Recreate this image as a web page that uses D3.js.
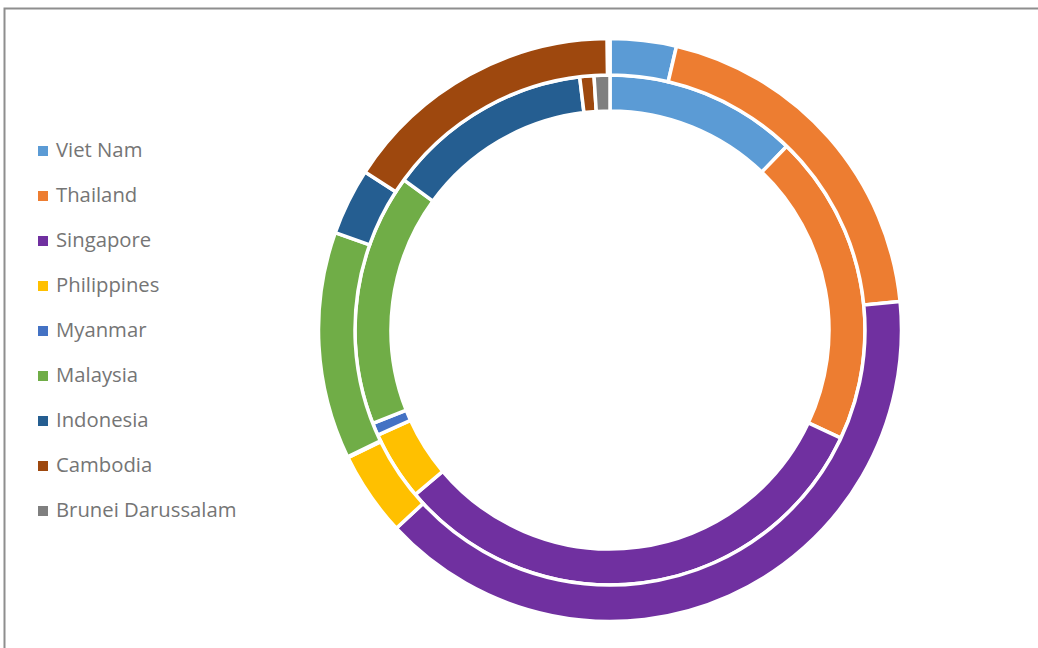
<!DOCTYPE html>
<html>
<head>
<meta charset="UTF-8">
<title>ASEAN doughnut</title>
<script src="https://cdn.jsdelivr.net/npm/d3@7/dist/d3.min.js"></script>
<style>
  body { margin: 0; background: #fff; }
</style>
</head>
<body>
<script>
// countries, clockwise from 12 o'clock
var countries = ["Viet Nam", "Thailand", "Singapore", "Philippines", "Myanmar",
                 "Malaysia", "Indonesia", "Cambodia", "Brunei Darussalam"];
var colors = ["#5B9BD5", "#ED7D31", "#7030A0", "#FFC000", "#4472C4",
              "#70AD47", "#255E91", "#9E480E", "#7F7F7F"];

// shares (%)
var innerRing = [12.2, 19.8, 31.9, 4.4, 0.8, 16.0, 13.1, 0.9, 1.0];
var outerRing = [3.67, 19.8, 39.7, 4.7, 0.05, 12.6, 3.7, 15.75, 0.15];

var width = 1038, height = 648;
var cx = 610, cy = 330;

var svg = d3.select("body").append("svg")
    .attr("width", width)
    .attr("height", height);

// chart frame (runs off the right and bottom)
svg.append("rect")
    .attr("x", 4.5).attr("y", 8.5)
    .attr("width", width + 20).attr("height", height + 20)
    .attr("fill", "none")
    .attr("stroke", "#8e8e8e")
    .attr("stroke-width", 2);

var pie = d3.pie().sort(null).value(function(d) { return d; });

function ring(data, r0, r1) {
    var arc = d3.arc().innerRadius(r0).outerRadius(r1);
    svg.append("g")
        .attr("transform", "translate(" + cx + "," + cy + ")")
        .selectAll("path")
        .data(pie(data))
        .enter()
        .append("path")
        .attr("d", arc)
        .attr("fill", function(d, i) { return colors[i]; })
        .attr("stroke", "#fff")
        .attr("stroke-width", 3.5)
        .attr("stroke-linejoin", "miter");
}

ring(innerRing, 219, 255);
ring(outerRing, 255, 291.5);

// legend
var legend = svg.append("g")
    .selectAll("g")
    .data(countries)
    .enter()
    .append("g")
    .attr("transform", function(d, i) { return "translate(0," + (157 + i * 45) + ")"; });

legend.append("rect")
    .attr("x", 38).attr("y", -11)
    .attr("width", 10).attr("height", 10)
    .attr("fill", function(d, i) { return colors[i]; });

legend.append("text")
    .attr("x", 56).attr("y", 0)
    .attr("font-family", "'Open Sans', sans-serif")
    .attr("font-size", 20.3)
    .attr("fill", "#757575")
    .text(function(d) { return d; });
</script>
</body>
</html>
